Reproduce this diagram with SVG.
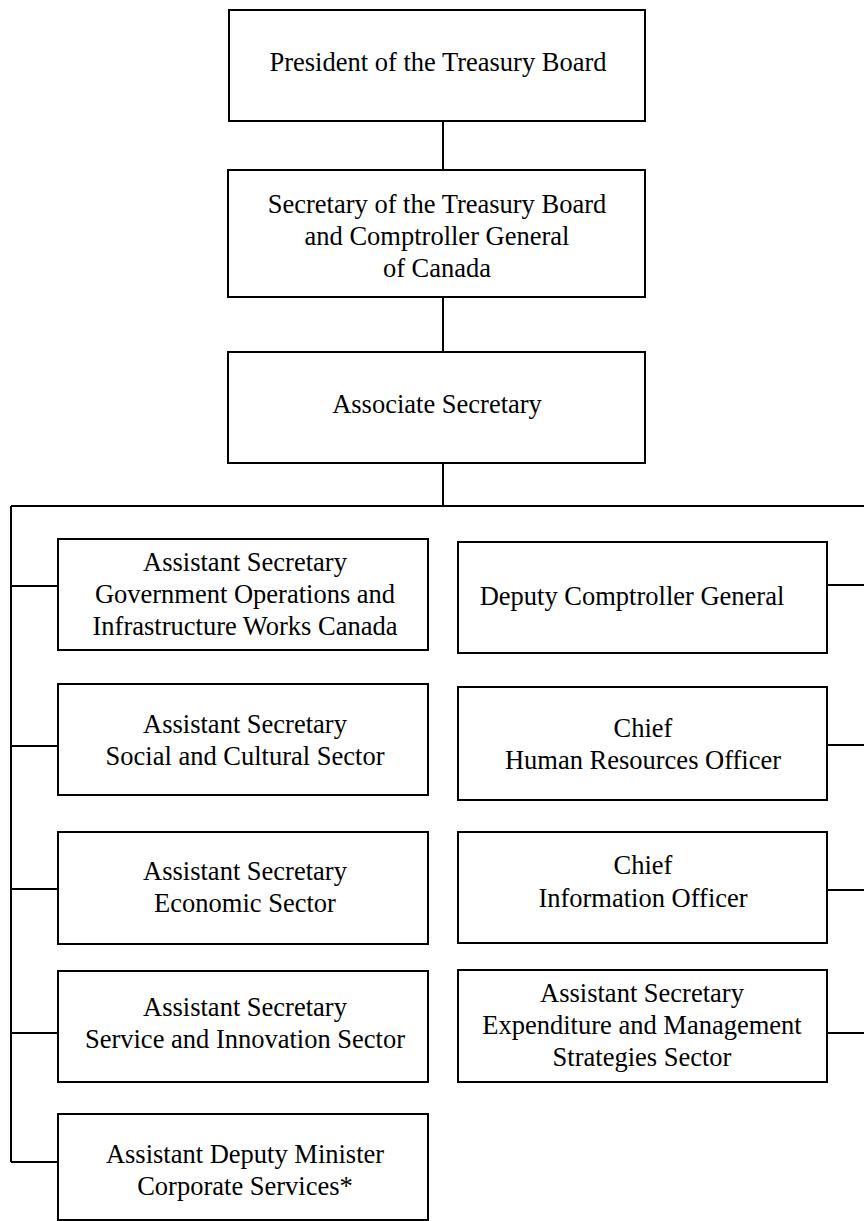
<svg xmlns="http://www.w3.org/2000/svg" width="864" height="1221" viewBox="0 0 864 1221">
<style>
.box{fill:#fff;stroke:#000;stroke-width:2}
.t{font-family:"Liberation Serif","Times New Roman",serif;font-size:26.5px;fill:#000;text-anchor:middle}
.c{stroke:#000;stroke-width:2;fill:none}
</style>
<rect width="864" height="1221" fill="#fff"/>
<g id="connectors">
<path class="c" d="M443,121V170M443,297V352M443,463V506M11,506H864M11,506V1162"/>
<path class="c" d="M11,586H58M11,746H58M11,889H58M11,1033H58M11,1162H58"/>
<path class="c" d="M827,585H864M827,745H864M827,890H864M827,1033H864"/>
</g>
<g id="president">
<rect class="box" x="229" y="10" width="416" height="111"/>
<text class="t" x="438" y="71">President of the Treasury Board</text>
</g>
<g id="secretary">
<rect class="box" x="228" y="170" width="417" height="127"/>
<text class="t" x="437" y="213">Secretary of the Treasury Board</text>
<text class="t" x="437" y="245">and Comptroller General</text>
<text class="t" x="437" y="277">of Canada</text>
</g>
<g id="associate">
<rect class="box" x="228" y="352" width="417" height="111"/>
<text class="t" x="437" y="413">Associate Secretary</text>
</g>
<g id="l1">
<rect class="box" x="58" y="539" width="370" height="111"/>
<text class="t" x="245" y="571">Assistant Secretary</text>
<text class="t" x="245" y="603">Government Operations and</text>
<text class="t" x="245" y="635">Infrastructure Works Canada</text>
</g>
<g id="l2">
<rect class="box" x="58" y="684" width="370" height="111"/>
<text class="t" x="245" y="733">Assistant Secretary</text>
<text class="t" x="245" y="765">Social and Cultural Sector</text>
</g>
<g id="l3">
<rect class="box" x="58" y="832" width="370" height="112"/>
<text class="t" x="245" y="880">Assistant Secretary</text>
<text class="t" x="245" y="912">Economic Sector</text>
</g>
<g id="l4">
<rect class="box" x="58" y="971" width="370" height="111"/>
<text class="t" x="245" y="1016">Assistant Secretary</text>
<text class="t" x="245" y="1048">Service and Innovation Sector</text>
</g>
<g id="l5">
<rect class="box" x="58" y="1114" width="370" height="106"/>
<text class="t" x="245" y="1163">Assistant Deputy Minister</text>
<text class="t" x="245" y="1195">Corporate Services*</text>
</g>
<g id="r1">
<rect class="box" x="458" y="542" width="369" height="111"/>
<text class="t" x="632" y="605">Deputy Comptroller General</text>
</g>
<g id="r2">
<rect class="box" x="458" y="687" width="369" height="113"/>
<text class="t" x="643" y="737">Chief</text>
<text class="t" x="643" y="769">Human Resources Officer</text>
</g>
<g id="r3">
<rect class="box" x="458" y="832" width="369" height="111"/>
<text class="t" x="643" y="874">Chief</text>
<text class="t" x="643" y="907">Information Officer</text>
</g>
<g id="r4">
<rect class="box" x="458" y="970" width="369" height="112"/>
<text class="t" x="642" y="1002">Assistant Secretary</text>
<text class="t" x="642" y="1034">Expenditure and Management</text>
<text class="t" x="642" y="1066">Strategies Sector</text>
</g>
</svg>
